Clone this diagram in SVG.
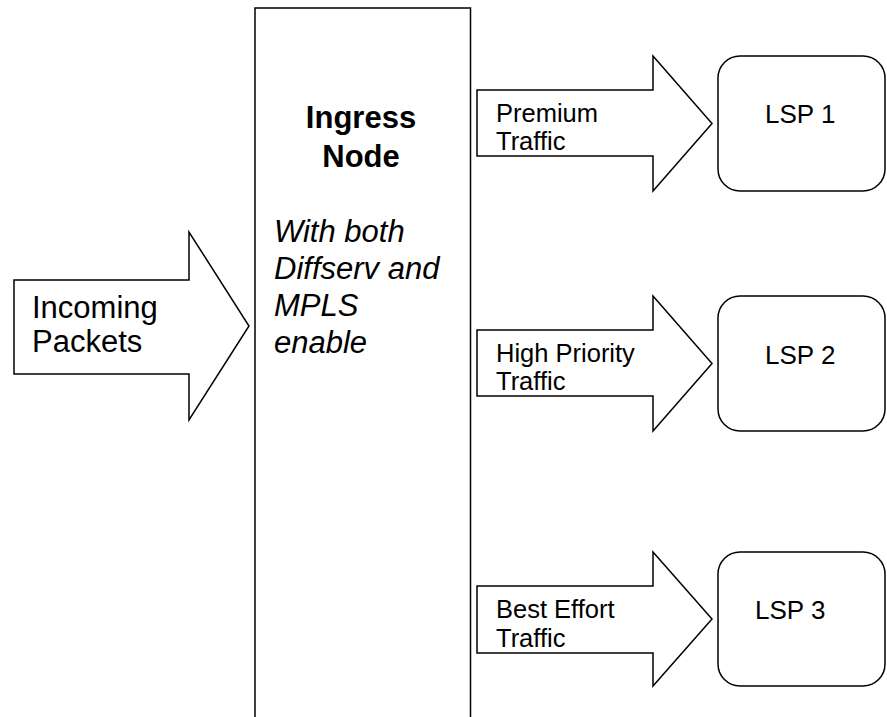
<svg xmlns="http://www.w3.org/2000/svg" width="887" height="717" viewBox="0 0 887 717">
  <style>
    .shape { fill: #fff; stroke: #000; stroke-width: 1.5; stroke-linejoin: miter; }
    .t { font-family: "Liberation Sans", Arial, sans-serif; fill: #000; }
    .big { font-size: 31px; }
    .small { font-size: 25.5px; }
    .lsp { font-size: 26px; }
    .bold { font-weight: bold; }
    .ital { font-style: italic; }
  </style>
  <rect width="887" height="717" fill="#fff"/>

  <!-- ingress node (extends past the bottom edge) -->
  <g id="ingress">
    <rect class="shape" x="255" y="8" width="215.5" height="730"/>
    <text class="t big bold" x="361" y="128" text-anchor="middle">Ingress</text>
    <text class="t big bold" x="361" y="167" text-anchor="middle">Node</text>
    <text class="t big ital" x="274" y="242">With both</text>
    <text class="t big ital" x="274" y="279">Diffserv and</text>
    <text class="t big ital" x="274" y="316">MPLS</text>
    <text class="t big ital" x="274" y="353">enable</text>
  </g>

  <!-- block arrows -->
  <g id="connectors">
    <g id="incoming">
      <polygon class="shape" points="14,280 189,280 189,232 249,326 189,420 189,374 14,374"/>
      <text class="t big" x="32" y="318">Incoming</text>
      <text class="t big" x="32" y="352">Packets</text>
    </g>
    <g id="premium">
      <polygon class="shape" points="477,90 653,90 653,56 712,123.5 653,191 653,156 477,156"/>
      <text class="t small" x="496" y="122">Premium</text>
      <text class="t small" x="496" y="150">Traffic</text>
    </g>
    <g id="high">
      <polygon class="shape" points="477,330 653,330 653,296 712,363.5 653,431 653,396 477,396"/>
      <text class="t small" x="496" y="362">High Priority</text>
      <text class="t small" x="496" y="390">Traffic</text>
    </g>
    <g id="best">
      <polygon class="shape" points="477,586 653,586 653,552 712,619 653,686 653,653 477,653"/>
      <text class="t small" x="496" y="618">Best Effort</text>
      <text class="t small" x="496" y="647">Traffic</text>
    </g>
  </g>

  <!-- label switched paths -->
  <g id="lsp1">
    <rect class="shape" x="718" y="56" width="167" height="135" rx="22" ry="22"/>
    <text class="t lsp" x="765" y="123">LSP 1</text>
  </g>
  <g id="lsp2">
    <rect class="shape" x="718" y="296" width="167" height="135" rx="22" ry="22"/>
    <text class="t lsp" x="765" y="364">LSP 2</text>
  </g>
  <g id="lsp3">
    <rect class="shape" x="718" y="552" width="167" height="134" rx="22" ry="22"/>
    <text class="t lsp" x="755" y="619">LSP 3</text>
  </g>
</svg>
